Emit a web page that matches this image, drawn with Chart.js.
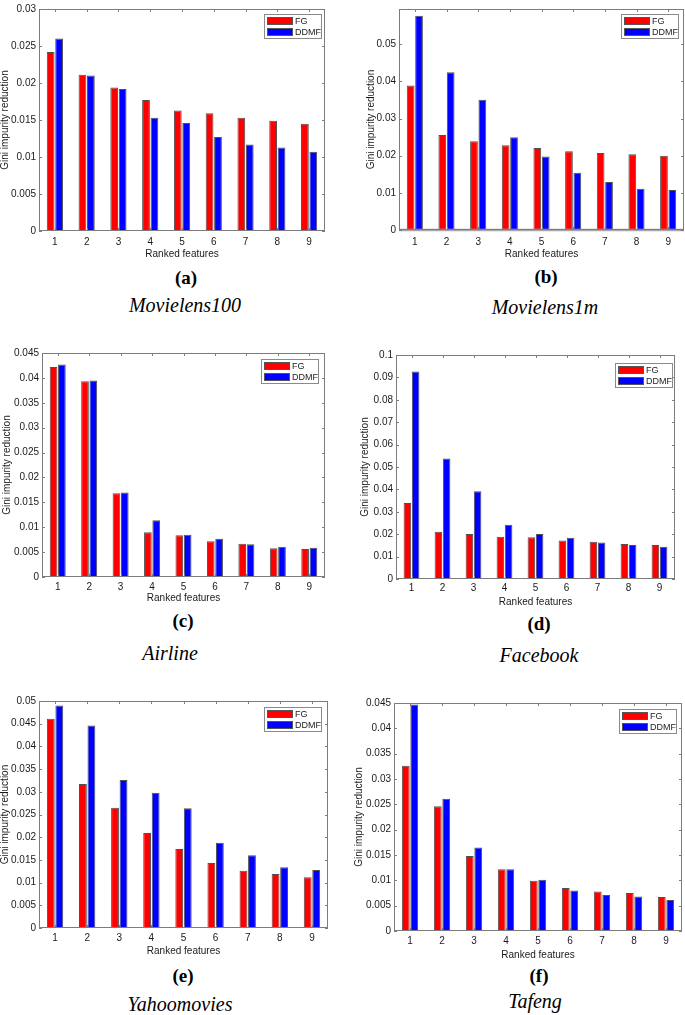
<!DOCTYPE html>
<html>
<head>
<meta charset="utf-8">
<script src="https://cdn.jsdelivr.net/npm/chart.js@4.4.1/dist/chart.umd.min.js"></script>
<style>
  html, body { margin: 0; padding: 0; background: #fff; }
  body { width: 685px; height: 1015px; position: relative; overflow: hidden; }
  .box { position: absolute; }
  .cap { position: absolute; transform: translate(-50%, -50%); white-space: nowrap; color: #000;
         font-family: "Liberation Serif", "DejaVu Serif", serif; line-height: 1; }
  .lbl { font-weight: bold; font-size: 19px; }
  .nm { font-style: italic; font-size: 20px; }
</style>
</head>
<body>
<div class="box" id="pa"><canvas id="ca"></canvas></div>
<div class="box" id="pb"><canvas id="cb"></canvas></div>
<div class="box" id="pc"><canvas id="cc"></canvas></div>
<div class="box" id="pd"><canvas id="cd"></canvas></div>
<div class="box" id="pe"><canvas id="ce"></canvas></div>
<div class="box" id="pf"><canvas id="cf"></canvas></div>

<div class="cap lbl" style="left:186px;top:277px">(a)</div>
<div class="cap nm" style="left:185px;top:305px">Movielens100</div>
<div class="cap lbl" style="left:546px;top:276px">(b)</div>
<div class="cap nm" style="left:545px;top:307px">Movielens1m</div>
<div class="cap lbl" style="left:183px;top:620px">(c)</div>
<div class="cap nm" style="left:170px;top:653px">Airline</div>
<div class="cap lbl" style="left:539px;top:623px">(d)</div>
<div class="cap nm" style="left:539px;top:655px">Facebook</div>
<div class="cap lbl" style="left:183px;top:975px">(e)</div>
<div class="cap nm" style="left:180px;top:1004px">Yahoomovies</div>
<div class="cap lbl" style="left:539px;top:975px">(f)</div>
<div class="cap nm" style="left:535px;top:1001px">Tafeng</div>

<script>
// ---------------- DATA ----------------
const categories = ['1', '2', '3', '4', '5', '6', '7', '8', '9'];
const seriesNames = ['FG', 'DDMF'];

const ml100FG   = [0.0242, 0.0211, 0.0194, 0.0177, 0.0163, 0.0159, 0.0153, 0.0149, 0.0145];
const ml100DDMF = [0.0260, 0.0210, 0.0192, 0.0153, 0.0146, 0.0127, 0.0117, 0.0113, 0.0107];

const ml1mFG    = [0.0389, 0.0256, 0.0239, 0.0228, 0.0221, 0.0212, 0.0207, 0.0204, 0.0200];
const ml1mDDMF  = [0.0577, 0.0425, 0.0351, 0.0250, 0.0198, 0.0154, 0.0129, 0.0111, 0.0108];

const airFG     = [0.0422, 0.0393, 0.0168, 0.0090, 0.0084, 0.0072, 0.0067, 0.0058, 0.0056];
const airDDMF   = [0.0427, 0.0395, 0.0170, 0.0114, 0.0085, 0.0077, 0.0066, 0.0061, 0.0059];

const fbFG      = [0.0339, 0.0211, 0.0201, 0.0189, 0.0186, 0.0172, 0.0166, 0.0156, 0.0152];
const fbDDMF    = [0.0926, 0.0538, 0.0392, 0.0242, 0.0201, 0.0184, 0.0163, 0.0152, 0.0144];

const yahooFG   = [0.0461, 0.0317, 0.0265, 0.0209, 0.0174, 0.0143, 0.0126, 0.0119, 0.0112];
const yahooDDMF = [0.0490, 0.0446, 0.0326, 0.0298, 0.0264, 0.0188, 0.0160, 0.0134, 0.0128];

const tafengFG   = [0.0326, 0.0246, 0.0148, 0.0122, 0.0099, 0.0085, 0.0078, 0.0075, 0.0067];
const tafengDDMF = [0.0447, 0.0261, 0.0165, 0.0122, 0.0101, 0.0080, 0.0071, 0.0068, 0.0061];

const ticksA = [0, 0.005, 0.01, 0.015, 0.02, 0.025, 0.03];
const ticksB = [0, 0.01, 0.02, 0.03, 0.04, 0.05];
const ticksC = [0, 0.005, 0.01, 0.015, 0.02, 0.025, 0.03, 0.035, 0.04, 0.045];
const ticksD = [0, 0.01, 0.02, 0.03, 0.04, 0.05, 0.06, 0.07, 0.08, 0.09, 0.1];
const ticksE = [0, 0.005, 0.01, 0.015, 0.02, 0.025, 0.03, 0.035, 0.04, 0.045, 0.05];
const ticksF = [0, 0.005, 0.01, 0.015, 0.02, 0.025, 0.03, 0.035, 0.04, 0.045];

const yTitle = 'Gini impurity reduction';
const xTitle = 'Ranked features';

// ---------------- DRAWING ----------------
const FONT = '"Liberation Sans", Arial, sans-serif';

const matlabPlugin = {
  id: 'matlabFrame',
  afterDatasetsDraw(chart, args, o) {
    const { ctx, chartArea: a, scales: { x, y } } = chart;
    ctx.save();
    if (o.baseline) {
      ctx.strokeStyle = '#a8a8a8';
      ctx.lineWidth = 2.5;
      ctx.beginPath();
      const py = y.getPixelForValue(0);
      ctx.moveTo(a.left, py); ctx.lineTo(a.right, py);
      ctx.stroke();
    }
    ctx.strokeStyle = '#7c7c7c';
    ctx.lineWidth = 1;
    ctx.strokeRect(Math.round(a.left) + 0.5, Math.round(a.top) + 0.5,
                   Math.round(a.right - a.left) - 1, Math.round(a.bottom - a.top) - 1);
    ctx.beginPath();
    y.ticks.forEach(t => {
      const py = Math.round(y.getPixelForValue(t.value)) + 0.5;
      ctx.moveTo(a.left, py); ctx.lineTo(a.left + 3, py);
      ctx.moveTo(a.right, py); ctx.lineTo(a.right - 3, py);
    });
    x.ticks.forEach((t, i) => {
      const px = Math.round(x.getPixelForTick(i)) + 0.5;
      ctx.moveTo(px, a.bottom); ctx.lineTo(px, a.bottom - 3);
      ctx.moveTo(px, a.top); ctx.lineTo(px, a.top + 3);
    });
    ctx.stroke();

    // legend box (top-right inside axes)
    const bw = 58, bh = 25;
    const bx = Math.round(a.right - o.legRight - bw);
    const by = Math.round(a.top + o.legTop);
    ctx.fillStyle = '#fff';
    ctx.fillRect(bx, by, bw, bh);
    ctx.strokeStyle = '#8a8a8a';
    ctx.strokeRect(bx + 0.5, by + 0.5, bw - 1, bh - 1);
    ctx.font = '9px ' + FONT;
    ctx.textBaseline = 'middle';
    ctx.textAlign = 'left';
    chart.data.datasets.forEach((ds, i) => {
      const sy = by + 3 + i * 11;
      ctx.fillStyle = ds.backgroundColor;
      ctx.fillRect(bx + 3, sy, 26, 8);
      ctx.strokeStyle = '#555';
      ctx.strokeRect(bx + 3.5, sy + 0.5, 25, 7);
      ctx.fillStyle = '#222';
      ctx.fillText(ds.label, bx + 31, sy + 4.5);
    });
    ctx.restore();
  }
};

function makePanel(p) {
  const box = document.getElementById(p.box);
  box.style.left = p.left + 'px';
  box.style.top = p.top + 'px';
  box.style.width = p.width + 'px';
  box.style.height = p.height + 'px';
  new Chart(document.getElementById(p.canvas), {
    type: 'bar',
    data: {
      labels: categories,
      datasets: [
        { label: seriesNames[0], data: p.fg, backgroundColor: '#ff0000', borderColor: '#505050', borderWidth: 1,
          barPercentage: 0.92, categoryPercentage: 0.53 },
        { label: seriesNames[1], data: p.ddmf, backgroundColor: '#0000ff', borderColor: '#505050', borderWidth: 1,
          barPercentage: 0.92, categoryPercentage: 0.53 }
      ]
    },
    options: {
      responsive: true,
      maintainAspectRatio: false,
      animation: false,
      events: [],
      layout: { padding: { top: p.padTop, right: p.padRight, left: 0, bottom: 0 } },
      plugins: {
        legend: { display: false },
        tooltip: { enabled: false },
        matlabFrame: { baseline: !!p.baseline, legRight: p.legRight, legTop: p.legTop }
      },
      scales: {
        x: {
          grid: { display: false, drawTicks: false },
          border: { display: false },
          ticks: { color: '#1a1a1a', font: { family: FONT, size: 10 }, padding: p.xPad, maxRotation: 0 },
          title: { display: true, text: xTitle, color: '#1a1a1a', font: { family: FONT, size: 10, lineHeight: 1 }, padding: 0 },
          afterFit(s) { s.height = p.xH; }
        },
        y: {
          min: 0,
          max: p.yMax,
          grid: { display: false, drawTicks: false },
          border: { display: false },
          afterBuildTicks(s) { s.ticks = p.ticks.map(v => ({ value: v })); },
          ticks: { color: '#1a1a1a', font: { family: FONT, size: 10 }, padding: 3,
                   callback: v => String(v) },
          title: { display: true, text: yTitle, color: '#1a1a1a', font: { family: FONT, size: 10, lineHeight: 1 }, padding: 0 },
          afterFit(s) { s.width = p.yW; }
        }
      }
    },
    plugins: [matlabPlugin]
  });
}

makePanel({ box: 'pa', canvas: 'ca', left: 0, top: 0, width: 335, height: 259, padTop: 5, padRight: 10,
  yW: 39, xH: 28, xPad: 5, yMax: 0.03, ticks: ticksA, fg: ml100FG, ddmf: ml100DDMF, legRight: 3, legTop: 5 });
makePanel({ box: 'pb', canvas: 'cb', left: 366, top: 0, width: 319, height: 259, padTop: 7, padRight: 1,
  yW: 33, xH: 29, xPad: 6, yMax: 0.0595, ticks: ticksB, fg: ml1mFG, ddmf: ml1mDDMF, legRight: 5, legTop: 5, baseline: true });
makePanel({ box: 'pc', canvas: 'cc', left: 2, top: 340, width: 333, height: 263, padTop: 13, padRight: 10,
  yW: 40, xH: 26, xPad: 4, yMax: 0.045, ticks: ticksC, fg: airFG, ddmf: airDDMF, legRight: 6, legTop: 6 });
makePanel({ box: 'pd', canvas: 'cd', left: 360, top: 340, width: 325, height: 267, padTop: 15, padRight: 10,
  yW: 36, xH: 28, xPad: 3, yMax: 0.1, ticks: ticksD, fg: fbFG, ddmf: fbDDMF, legRight: 2, legTop: 8 });
makePanel({ box: 'pe', canvas: 'ce', left: 0, top: 690, width: 338, height: 266, padTop: 11, padRight: 10,
  yW: 39, xH: 28, xPad: 4, yMax: 0.05, ticks: ticksE, fg: yahooFG, ddmf: yahooDDMF, legRight: 6, legTop: 6 });
makePanel({ box: 'pf', canvas: 'cf', left: 354, top: 690, width: 331, height: 270, padTop: 13, padRight: 3,
  yW: 40, xH: 29, xPad: 4, yMax: 0.045, ticks: ticksF, fg: tafengFG, ddmf: tafengDDMF, legRight: 5, legTop: 6 });
</script>
</body>
</html>
